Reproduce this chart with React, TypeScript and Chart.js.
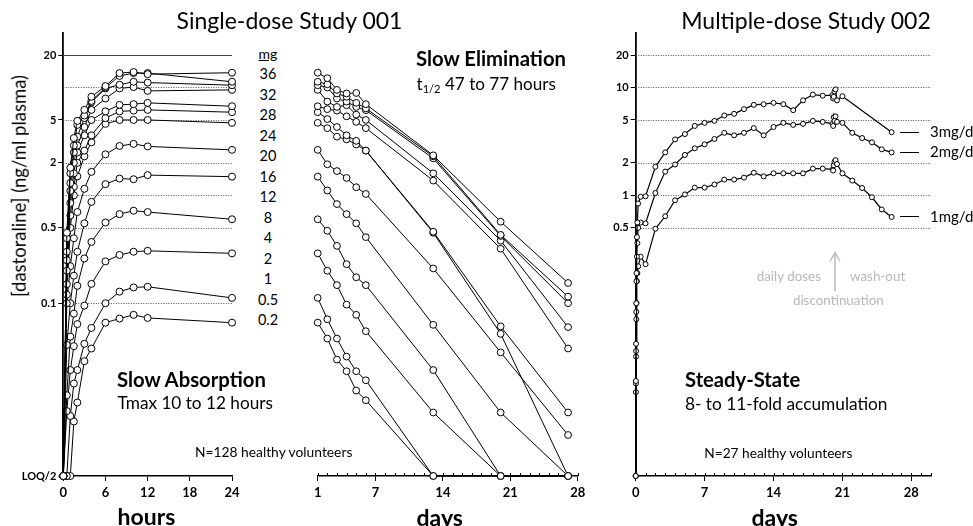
import React, { useEffect, useRef } from "react";
import { Chart, registerables } from "chart.js";

Chart.register(...registerables);

const FONT = "Lato, 'Open Sans', sans-serif";
const LOQ = 0.0025; // LOQ/2 plotting level
const Y_MIN = 0.0025;
const Y_MAX = 32;

// ---------- Single-dose Study 001: absorption (hours) ----------
const sdHours = [0, 0.5, 1, 1.5, 2, 3, 4, 6, 8, 10, 12, 24];
const sdDoseLabels = ["36", "32", "28", "24", "20", "16", "12", "8", "4", "2", "1", "0.5", "0.2"];
const sd36 = [LOQ, 0.45, 1.8, 3.4, 4.9, 6.2, 8.2, 10.3, 13.6, 13.9, 13.3, 13.7];
const sd32 = [LOQ, 0.4, 1.6, 2.9, 4.5, 5.5, 7.5, 10.0, 12.8, 13.6, 13.6, 11.3];
const sd28 = [LOQ, 0.3, 1.3, 2.5, 3.5, 5.2, 7.3, 9.8, 10.6, 11.3, 11.1, 10.5];
const sd24 = [LOQ, 0.25, 1.1, 2.0, 2.9, 4.3, 6.2, 7.9, 9.8, 10.1, 9.3, 9.5];
const sd20 = [LOQ, 0.2, 0.85, 1.6, 2.5, 3.6, 5.0, 6.0, 6.9, 7.0, 7.2, 6.7];
const sd16 = [LOQ, 0.15, 0.65, 1.2, 2.0, 2.6, 3.6, 5.2, 6.0, 6.1, 6.2, 5.9];
const sd12 = [LOQ, 0.12, 0.5, 1.0, 1.5, 2.3, 3.1, 4.6, 5.0, 5.0, 5.0, 4.7];
const sd8 = [LOQ, 0.1, 0.22, 0.4, 0.7, 1.15, 1.65, 2.4, 2.87, 3.0, 2.84, 2.64];
const sd4 = [LOQ, 0.041, 0.1, 0.18, 0.3, 0.55, 0.87, 1.27, 1.43, 1.41, 1.54, 1.49];
const sd2 = [LOQ, 0.014, 0.049, 0.08, 0.145, 0.26, 0.37, 0.56, 0.67, 0.72, 0.7, 0.6];
const sd1 = [LOQ, 0.01, 0.024, 0.04, 0.064, 0.095, 0.151, 0.244, 0.28, 0.3, 0.306, 0.29];
const sd05 = [LOQ, LOQ, 0.009, 0.018, 0.024, 0.042, 0.059, 0.1, 0.128, 0.14, 0.142, 0.112];
const sd02 = [LOQ, LOQ, LOQ, 0.008, 0.012, 0.029, 0.038, 0.066, 0.072, 0.078, 0.073, 0.066];
const sdSeries = [sd36, sd32, sd28, sd24, sd20, sd16, sd12, sd8, sd4, sd2, sd1, sd05, sd02];

// ---------- Single-dose Study 001: elimination (days) ----------
const elDays = [1, 2, 3, 4, 5, 6, 13, 20, 27];
const el36 = [13.7, 12.2, 9.5, 8.8, 8.9, 7.0, 2.35, 0.57, 0.154];
const el32 = [11.3, 10.7, 8.8, 8.2, 7.2, 6.4, 2.3, 0.43, 0.115];
const el28 = [10.5, 10.0, 7.9, 7.4, 6.6, 6.16, 2.2, 0.42, 0.1];
const el24 = [9.5, 7.4, 6.6, 6.85, 5.6, 5.0, 1.6, 0.38, 0.06];
const el20 = [6.7, 6.3, 6.1, 5.4, 4.8, 4.2, 1.37, 0.32, 0.038];
const el16 = [5.9, 5.1, 4.3, 3.6, 3.2, 2.6, 0.46, 0.061, 0.0097];
const el12 = [4.7, 4.2, 3.5, 3.3, 2.96, 2.6, 0.45, 0.052, LOQ];
const el8 = [2.64, 1.94, 1.68, 1.45, 1.19, 1.03, 0.21, 0.035, 0.006];
const el4 = [1.49, 1.11, 0.83, 0.67, 0.55, 0.41, 0.063, 0.0097, LOQ];
const el2 = [0.6, 0.47, 0.34, 0.23, 0.174, 0.147, 0.024, LOQ, LOQ];
const el1 = [0.29, 0.2, 0.147, 0.097, 0.078, 0.055, 0.0097, LOQ, LOQ];
const el05 = [0.112, 0.071, 0.047, 0.032, 0.0234, 0.0193, LOQ, LOQ, LOQ];
const el02 = [0.066, 0.047, 0.03, 0.0234, 0.0155, 0.0126, LOQ, LOQ, LOQ];
const elSeries = [el36, el32, el28, el24, el20, el16, el12, el8, el4, el2, el1, el05, el02];

// ---------- Multiple-dose Study 002 (days) ----------
const mdDay0 = [0, 0.02, 0.04, 0.06, 0.08, 0.125, 0.17, 0.25, 0.5];
const mdDaily = [1, 2, 3, 4, 5, 6, 7, 8, 9, 10, 11, 12, 13, 14, 15, 16, 17, 18, 19];
const mdPeak = [20, 20.06, 20.12, 20.2, 20.3, 20.45];
const md3Wash = [21, 26];
const mdWash = [21, 22, 23, 24, 25, 26];
const md3mg = [
  LOQ, 0.019, 0.042, 0.1, 0.19, 0.41, 0.56, 0.84, 0.97,
  0.98, 1.84, 2.5, 3.3, 3.7, 4.4, 4.7, 4.9, 5.5, 5.7, 6.3, 6.9, 7.0, 7.2, 7.0, 6.16, 7.6, 8.6, 8.4,
  8.5, 7.9, 8.2, 9.2, 9.6, 7.6,
  8.3, 3.85,
];
const md2mg = [
  LOQ, 0.018, 0.036, 0.083, 0.16, 0.27, 0.36, 0.5, 0.56,
  0.55, 1.05, 1.66, 1.93, 2.37, 2.73, 2.97, 3.33, 3.8, 3.6, 3.8, 4.2, 3.6, 4.3, 4.7, 4.5, 4.6, 4.9, 4.8,
  4.6, 4.4, 5.3, 4.9, 5.4, 4.8,
  4.7, 3.8, 3.4, 3.1, 2.67, 2.5,
];
const md1mg = [
  LOQ, 0.015, 0.032, 0.071, 0.1, 0.16, 0.19, 0.22, 0.27,
  0.23, 0.49, 0.64, 0.9, 1.02, 1.18, 1.18, 1.26, 1.4, 1.4, 1.46, 1.62, 1.5, 1.6, 1.6, 1.6, 1.6, 1.77, 1.77,
  1.74, 1.7, 1.9, 2.05, 2.12, 1.95,
  1.6, 1.37, 1.17, 0.96, 0.74, 0.63,
];
const mdLabels = ["3mg/d", "2mg/d", "1mg/d"];
const mdLabelValues = [3.85, 2.5, 0.63];

// ---------- axes ----------
const sdYTicks = [20, 5, 2, 0.5, 0.1, LOQ];
const sdGrid = [20, 10, 5, 2, 1, 0.5, 0.1];
const mdYTicks = [20, 10, 5, 2, 1, 0.5];
const mdGrid = [20, 10, 5, 2, 1, 0.5];
const hourTicks = [0, 6, 12, 18, 24];
const elDayTicks = [1, 7, 14, 21, 28];
const mdDayTicks = [0, 7, 14, 21, 28];

const yLabel = (v: number) => (v === LOQ ? "LOQ/2" : String(v));

function series(xs: number[], ys: number[], r: number, bw = 1) {
  return {
    data: xs.map((x, i) => ({ x, y: ys[i] })),
    showLine: true,
    borderColor: "#000",
    borderWidth: bw,
    pointRadius: r,
    pointBackgroundColor: "#fff",
    pointBorderColor: "#000",
    pointBorderWidth: 1,
    clip: false,
    tension: 0,
  };
}

type PanelOpts = {
  datasets: any[];
  xMin: number;
  xMax: number;
  xTicks: number[];
  yTicks: number[] | null;
  yWidth: number;
  grid: number[];
  solidTop: boolean;
  padding: { left: number; right: number; top: number; bottom: number };
  minor?: [number, number];
};

function buildConfig(o: PanelOpts): any {
  const overlay = {
    id: "pkOverlay",
    beforeDatasetsDraw(chart: any) {
      const { ctx, chartArea } = chart;
      const ys = chart.scales.y;
      const xs = chart.scales.x;
      ctx.save();
      o.grid.forEach((v, i) => {
        const py = Math.round(ys.getPixelForValue(v)) + 0.5;
        const solid = o.solidTop && i === 0;
        ctx.beginPath();
        ctx.setLineDash(solid ? [] : [1, 1.5]);
        ctx.lineWidth = 1;
        ctx.strokeStyle = solid ? "#444" : "#555";
        ctx.moveTo(chartArea.left, py);
        ctx.lineTo(chartArea.right, py);
        ctx.stroke();
      });
      if (o.minor) {
        ctx.setLineDash([]);
        ctx.strokeStyle = "#000";
        ctx.lineWidth = 1;
        const by = chartArea.bottom;
        for (let d = o.minor[0]; d <= o.minor[1]; d++) {
          const px = Math.round(xs.getPixelForValue(d)) + 0.5;
          ctx.beginPath();
          ctx.moveTo(px, by);
          ctx.lineTo(px, by - 3);
          ctx.stroke();
        }
      }
      ctx.restore();
    },
  };
  const yScale: any = {
    type: "logarithmic",
    min: Y_MIN,
    max: Y_MAX,
    display: !!o.yTicks,
    ticks: {
      callback: (v: number) => yLabel(v),
      font: { family: FONT, size: 11, weight: "bold" },
      color: "#000",
      padding: 2,
      autoSkip: false,
    },
    grid: { drawOnChartArea: false, drawTicks: true, tickLength: 5, color: "#000", tickWidth: 1 },
    border: { display: true, color: "#000", width: 1.8 },
  };
  if (o.yTicks) {
    const t = o.yTicks;
    yScale.afterBuildTicks = (s: any) => {
      s.ticks = t.map((v) => ({ value: v }));
    };
    yScale.afterFit = (s: any) => {
      s.width = o.yWidth;
    };
  }
  return {
    type: "scatter",
    data: { datasets: o.datasets },
    options: {
      responsive: false,
      animation: false,
      devicePixelRatio: 1,
      events: [],
      layout: { padding: o.padding, autoPadding: false },
      plugins: { legend: { display: false }, tooltip: { enabled: false }, title: { display: false } },
      scales: {
        x: {
          type: "linear",
          min: o.xMin,
          max: o.xMax,
          afterBuildTicks: (s: any) => {
            s.ticks = o.xTicks.map((v) => ({ value: v }));
          },
          afterFit: (s: any) => {
            s.height = 40;
          },
          ticks: {
            font: { family: FONT, size: 13, weight: "bold" },
            color: "#000",
            padding: 4,
            autoSkip: false,
            maxRotation: 0,
          },
          grid: { drawOnChartArea: false, drawTicks: true, tickLength: 5, color: "#000" },
          border: { display: true, color: "#000", width: 1.5 },
        },
        y: yScale,
      },
    },
    plugins: [overlay],
  };
}

function Txt(p: {
  x: number;
  y: number;
  size: number;
  bold?: boolean;
  align?: "left" | "center" | "right";
  color?: string;
  underline?: boolean;
  children: React.ReactNode;
}) {
  const transform = p.align === "center" ? "translateX(-50%)" : p.align === "right" ? "translateX(-100%)" : undefined;
  return (
    <div
      style={{
        position: "absolute",
        left: p.x,
        top: p.y - 0.887 * p.size,
        fontSize: p.size,
        lineHeight: 1,
        fontWeight: p.bold ? 700 : 400,
        whiteSpace: "nowrap",
        transform,
        color: p.color || "#000",
        fontFamily: FONT,
        textDecoration: p.underline ? "underline" : undefined,
      }}
    >
      {p.children}
    </div>
  );
}

export default function App() {
  const c1 = useRef<HTMLCanvasElement>(null);
  const c2 = useRef<HTMLCanvasElement>(null);
  const c3 = useRef<HTMLCanvasElement>(null);

  useEffect(() => {
    const ch1 = new Chart(
      c1.current!,
      buildConfig({
        datasets: sdSeries.map((s) => series(sdHours, s, 3.5)),
        xMin: 0,
        xMax: 24,
        xTicks: hourTicks,
        yTicks: sdYTicks,
        yWidth: 63.3,
        grid: sdGrid,
        solidTop: true,
        padding: { left: 0, right: 13, top: 33, bottom: 10 },
      })
    );
    const ch2 = new Chart(
      c2.current!,
      buildConfig({
        datasets: elSeries.map((s) => series(elDays, s, 3.4)),
        xMin: 1,
        xMax: 28,
        xTicks: elDayTicks,
        yTicks: null,
        yWidth: 0,
        grid: [],
        solidTop: false,
        padding: { left: 27.7, right: 12.3, top: 33, bottom: 10 },
        minor: [1, 28],
      })
    );
    const x3 = [...mdDay0, ...mdDaily, ...mdPeak, ...md3Wash];
    const x21 = [...mdDay0, ...mdDaily, ...mdPeak, ...mdWash];
    const ch3 = new Chart(
      c3.current!,
      buildConfig({
        datasets: [series(x3, md3mg, 2.5, 1.2), series(x21, md2mg, 2.5, 1.2), series(x21, md1mg, 2.5, 1.2)],
        xMin: 0,
        xMax: 30,
        xTicks: mdDayTicks,
        yTicks: mdYTicks,
        yWidth: 40.7,
        grid: mdGrid,
        solidTop: false,
        padding: { left: 0, right: 42, top: 33, bottom: 10 },
        minor: [0, 30],
      })
    );
    return () => {
      ch1.destroy();
      ch2.destroy();
      ch3.destroy();
    };
  }, []);

  // label rows follow the same log geometry as the y scale (33..476 px)
  const yPix = (v: number) => 33 + (Math.log10(Y_MAX / v) / Math.log10(Y_MAX / Y_MIN)) * 443;

  return (
    <div
      style={{
        position: "absolute",
        left: 0,
        top: 0,
        width: 973,
        height: 526,
        background: "#fff",
        overflow: "hidden",
        fontFamily: FONT,
      }}
    >
      <canvas ref={c1} width={245} height={526} style={{ position: "absolute", left: 0, top: 0, width: 245, height: 526 }} />
      <canvas ref={c2} width={300} height={526} style={{ position: "absolute", left: 290, top: 0, width: 300, height: 526 }} />
      <canvas ref={c3} width={378} height={526} style={{ position: "absolute", left: 595, top: 0, width: 378, height: 526 }} />

      <Txt x={289.5} y={29} size={23} align="center">Single-dose Study 001</Txt>
      <Txt x={806} y={29} size={23} align="center">Multiple-dose Study 002</Txt>

      <div
        style={{
          position: "absolute",
          left: 19,
          top: 185.5,
          fontSize: 18.5,
          lineHeight: 1,
          whiteSpace: "nowrap",
          transform: "translate(-50%,-50%) rotate(-90deg)",
          fontFamily: FONT,
        }}
      >
        [dastoraline] (ng/ml plasma)
      </div>

      <Txt x={268} y={59.5} size={14} align="center" underline>mg</Txt>
      {sdDoseLabels.map((d, i) => (
        <Txt key={d} x={268} y={75 + i * 20.5 + 5} size={14.5} align="center">
          {d}
        </Txt>
      ))}

      <Txt x={117} y={387} size={20.3} bold>Slow Absorption</Txt>
      <Txt x={117.5} y={409.5} size={17.2}>Tmax 10 to 12 hours</Txt>
      <Txt x={195} y={457.5} size={13.8}>N=128 healthy volunteers</Txt>

      <Txt x={416} y={66.5} size={20.3} bold>Slow Elimination</Txt>
      <Txt x={416.5} y={90.5} size={17.1}>
        t<sub style={{ fontSize: "0.65em", verticalAlign: "-0.3em" }}>1/2</sub> 47 to 77 hours
      </Txt>

      <Txt x={685} y={386.5} size={20.2} bold>Steady-State</Txt>
      <Txt x={685} y={410} size={17.3}>8- to 11-fold accumulation</Txt>
      <Txt x={704.3} y={458.3} size={13.7}>N=27 healthy volunteers</Txt>

      <Txt x={146.5} y={525.5} size={23} bold align="center">hours</Txt>
      <Txt x={439.7} y={526} size={23} bold align="center">days</Txt>
      <Txt x={774.7} y={526} size={23} bold align="center">days</Txt>

      {mdLabels.map((l, i) => {
        const py = yPix(mdLabelValues[i]);
        return (
          <React.Fragment key={l}>
            <div style={{ position: "absolute", left: 900, top: py - 0.5, width: 19, height: 1, background: "#000" }} />
            <Txt x={930} y={py + 5} size={15}>{l}</Txt>
          </React.Fragment>
        );
      })}

      <Txt x={821} y={282} size={13.4} align="right" color="#b8b8b8">daily doses</Txt>
      <Txt x={850} y={282} size={13.4} color="#b8b8b8">wash-out</Txt>
      <Txt x={838.3} y={306} size={13.4} align="center" color="#b8b8b8">discontinuation</Txt>
      <svg style={{ position: "absolute", left: 825, top: 248, width: 20, height: 46 }} width={20} height={46}>
        <path d="M10 4.5 L10 43" stroke="#bdbdbd" strokeWidth={1.6} fill="none" />
        <path d="M5 13.5 L10 4.5 L15 13.5" stroke="#bdbdbd" strokeWidth={1.4} fill="none" />
      </svg>
    </div>
  );
}
